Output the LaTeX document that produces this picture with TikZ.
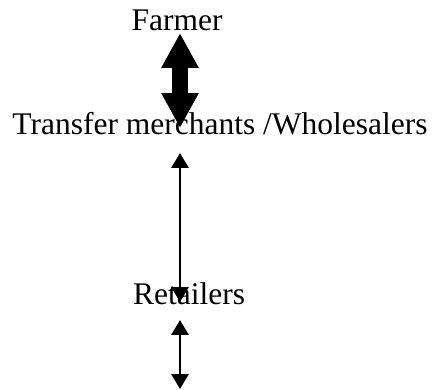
\documentclass[tikz,border=0pt]{standalone}
\usepackage{fontspec}
\setmainfont{Liberation Serif}
\usetikzlibrary{arrows.meta}

\tikzset{
  stage/.style={anchor=base, inner sep=0pt, font=\fontsize{12pt}{14pt}\selectfont},
  wide flow/.style={line width=6.1pt,
    {Triangle[length=13.3pt,width=13.3pt]}-{Triangle[length=13.3pt,width=13.3pt]}},
  thin flow/.style={line width=1pt,
    {Triangle[length=5.7pt,width=6.5pt]}-{Triangle[length=5.7pt,width=6.5pt]}}
}

\begin{document}
\begin{tikzpicture}[x=0.381pt, y=-0.381pt]

    \useasboundingbox (0, 0) rectangle (436, 390);

    \coordinate (FA) at (177, 31);
    \coordinate (WH) at (220, 135);
    \coordinate (RE) at (189, 305);

    \coordinate (FWS) at (180, 33);
    \coordinate (FWT) at (180, 128);

    \coordinate (WRS) at (180, 153);
    \coordinate (WRT) at (180, 302);

    \coordinate (RCS) at (180, 320);
    \coordinate (RCT) at (180, 389);

    \node[stage] (farmer) at (FA) {Farmer};
    \node[stage] (wholesale) at (WH) {Transfer merchants /Wholesalers};
    \node[stage] (retail) at (RE) {Retailers};

    \draw[wide flow] (FWS) -- (FWT);
    \draw[thin flow] (WRS) -- (WRT);
    \draw[thin flow] (RCS) -- (RCT);

  \end{tikzpicture}
\end{document}
